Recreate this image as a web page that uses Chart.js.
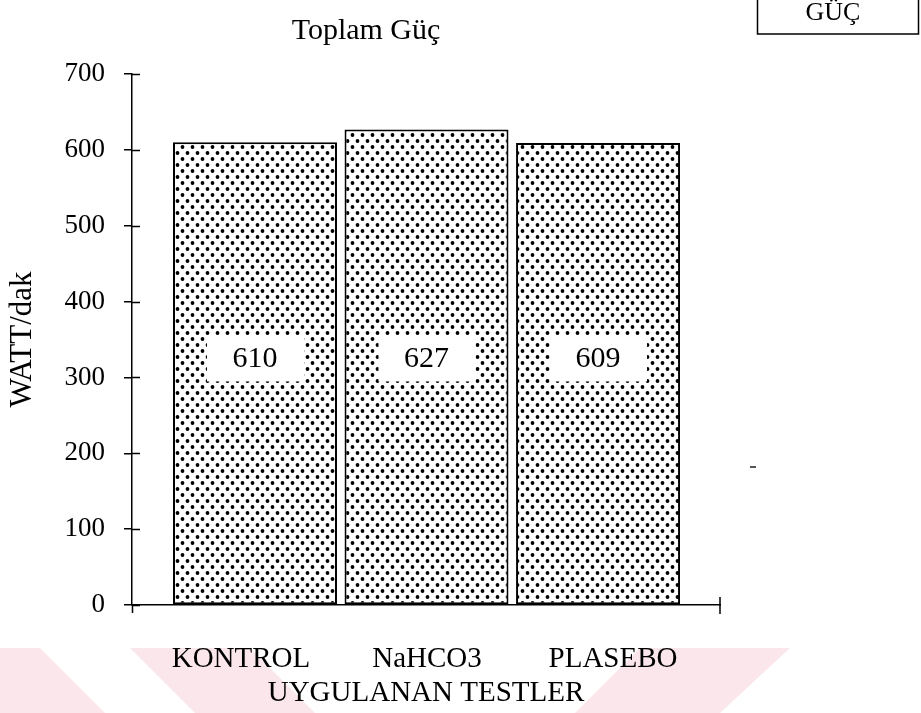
<!DOCTYPE html>
<html>
<head>
<meta charset="utf-8">
<script src="https://cdn.jsdelivr.net/npm/chart.js@4.4.1/dist/chart.umd.min.js"></script>
<style>
  html, body { margin: 0; padding: 0; background: #fff; }
  #wrap { width: 921px; height: 713px; position: relative; }
</style>
</head>
<body>
<div id="wrap"><canvas id="c" width="921" height="713"></canvas></div>
<script>
// ---- data ----
const categories = ['KONTROL', 'NaHCO3', 'PLASEBO'];
const totalPower = [610, 627, 609];
const yTicks = [0, 100, 200, 300, 400, 500, 600, 700];
const chartTitle = 'Toplam Güç';
const cornerLabel = 'GÜÇ';
const yTitle = 'WATT/dak';
const xTitle = 'UYGULANAN TESTLER';

// ---- style ----
const SERIF = "'Liberation Serif', 'Times New Roman', Times, serif";
const INK = '#000';
const LABEL_LEVEL = 325;          // value level where the white value boxes sit
const WATERMARK = 'rgba(250, 222, 229, 0.75)';

const canvas = document.getElementById('c');
const ctx = canvas.getContext('2d');

// stippled fill used by the bars
function dotPattern() {
  const t = document.createElement('canvas');
  t.width = 10; t.height = 12;
  const g = t.getContext('2d');
  g.fillStyle = '#fff';
  g.fillRect(0, 0, t.width, t.height);
  g.fillStyle = '#000';
  [[2.5, 3], [7.5, 9]].forEach(([x, y]) => {
    g.beginPath(); g.arc(x, y, 1.9, 0, Math.PI * 2); g.fill();
  });
  return ctx.createPattern(t, 'repeat');
}

const decor = {
  id: 'decor',
  beforeDraw(chart) {
    const c = chart.ctx;
    c.save();
    c.fillStyle = '#fff';
    c.fillRect(0, 0, chart.width, chart.height);
    // faint diagonal background band along the bottom
    c.fillStyle = WATERMARK;
    const bands = [
      [[0, 648], [40, 648], [105, 713], [0, 713]],
      [[130, 648], [250, 648], [315, 713], [195, 713]],
      [[640, 648], [790, 648], [720, 713], [575, 713]]
    ];
    bands.forEach(p => {
      c.beginPath();
      c.moveTo(p[0][0], p[0][1]);
      for (let i = 1; i < p.length; i++) c.lineTo(p[i][0], p[i][1]);
      c.closePath(); c.fill();
    });
    c.restore();
  },
  afterDatasetsDraw(chart) {
    const c = chart.ctx;
    const ys = chart.scales.y;
    const meta = chart.getDatasetMeta(0);
    c.save();
    c.font = `30px ${SERIF}`;
    c.textAlign = 'center';
    c.textBaseline = 'middle';
    const cy = ys.getPixelForValue(LABEL_LEVEL);
    meta.data.forEach((bar, i) => {
      c.fillStyle = '#fff';
      c.fillRect(bar.x - 48, cy - 23, 97, 46);
      c.fillStyle = INK;
      c.fillText(String(totalPower[i]), bar.x, cy + 1);
    });
    c.restore();
  },
  afterDraw(chart) {
    const c = chart.ctx;
    const a = chart.chartArea;
    const ys = chart.scales.y;
    const y0 = ys.getPixelForValue(0);
    c.save();
    c.strokeStyle = INK;
    c.lineWidth = 1.5;
    // inner half of the y tick marks
    c.beginPath();
    yTicks.forEach(v => {
      const y = Math.round(ys.getPixelForValue(v)) + 0.5;
      c.moveTo(a.left, y); c.lineTo(a.left + 8, y);
    });
    // tick marks at both ends of the x axis
    c.moveTo(a.left + 0.5, y0); c.lineTo(a.left + 0.5, y0 + 8);
    c.moveTo(a.right, y0 - 8); c.lineTo(a.right, y0 + 9);
    c.stroke();

    // title
    c.fillStyle = INK;
    c.font = `30px ${SERIF}`;
    c.textAlign = 'center';
    c.textBaseline = 'middle';
    c.fillText(chartTitle, 366, 31);

    // boxed label in the top-right corner
    c.lineWidth = 1.5;
    c.strokeRect(757.5, -5, 161, 39);
    c.font = `26px ${SERIF}`;
    c.fillText(cornerLabel, 833, 13);

    // small stray mark to the right of the plot
    c.fillStyle = '#555';
    c.fillRect(750, 466, 6, 2);
    c.restore();
  }
};

const fontTick = { family: SERIF, size: 27 };
const fontAxis = { family: SERIF, size: 29 };

new Chart(ctx, {
  type: 'bar',
  data: {
    datasets: [{
      data: totalPower.map((v, i) => ({ x: i + 1, y: v })),
      backgroundColor: dotPattern(),
      borderColor: INK,
      borderWidth: 2,
      borderSkipped: false,
      barPercentage: 0.956,
      categoryPercentage: 1
    }]
  },
  options: {
    responsive: false,
    animation: false,
    devicePixelRatio: 1,
    layout: { padding: { left: 0, right: 201, top: 74, bottom: 0 } },
    plugins: {
      legend: { display: false },
      tooltip: { enabled: false },
      title: { display: false }
    },
    scales: {
      x: {
        type: 'linear',
        position: 'bottom',
        min: 0.283, max: 3.711,
        offset: false,
        afterBuildTicks: s => { s.ticks = categories.map((_, i) => ({ value: i + 1 })); },
        ticks: { display: false },
        grid: { display: false, drawTicks: false, offset: false },
        border: { display: true, color: INK, width: 1.5 },
        afterFit: s => { s.height = 0; }
      },
      xl: {
        type: 'linear',
        position: 'bottom',
        min: 0.414, max: 3.575,
        offset: false,
        afterBuildTicks: s => { s.ticks = categories.map((_, i) => ({ value: i + 1 })); },
        ticks: {
          callback: v => categories[v - 1],
          font: fontAxis, color: INK, padding: 37,
          autoSkip: false, maxRotation: 0
        },
        grid: { display: false, drawTicks: false },
        border: { display: false },
        title: { display: true, text: xTitle, font: fontAxis, color: INK, padding: { top: 0, bottom: 2 } },
        afterFit: s => { s.height = 108; }
      },
      y: {
        min: 0, max: 700,
        afterBuildTicks: s => { s.ticks = yTicks.map(v => ({ value: v })); },
        ticks: { font: fontTick, color: INK, padding: 19 },
        grid: { drawOnChartArea: false, drawTicks: true, tickLength: 8, color: INK, lineWidth: 1.5 },
        border: { display: true, color: INK, width: 1.5 },
        title: { display: true, text: yTitle, font: { family: SERIF, size: 31 }, color: INK, padding: { top: 4, bottom: 24 } },
        afterFit: s => { s.width = 132; }
      }
    }
  },
  plugins: [decor]
});
</script>
</body>
</html>
